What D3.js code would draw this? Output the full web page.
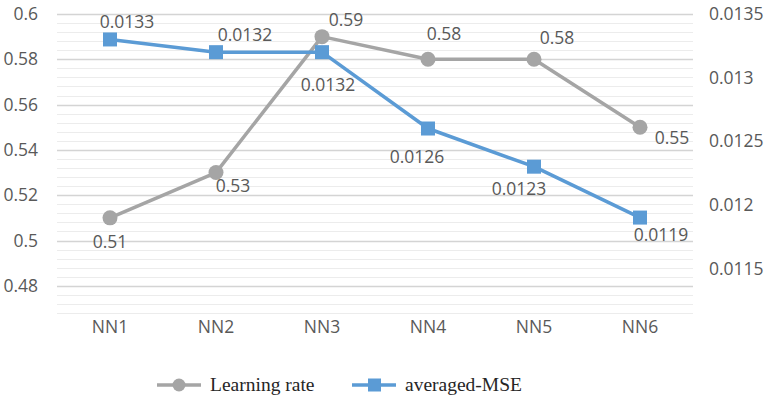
<!DOCTYPE html>
<html>
<head>
<meta charset="utf-8">
<script src="https://cdn.jsdelivr.net/npm/d3@7"></script>
<style>
  html, body { margin: 0; padding: 0; background: #fff; }
  svg { display: block; }
</style>
</head>
<body>
<svg id="chart" width="765" height="402"></svg>
<script>
// Network configurations and their measured values
const categories = ["NN1", "NN2", "NN3", "NN4", "NN5", "NN6"];
const learningRate = [0.51, 0.53, 0.59, 0.58, 0.58, 0.55];
const averagedMSE = [0.0133, 0.0132, 0.0132, 0.0126, 0.0123, 0.0119];
const leftTicks = [0.48, 0.5, 0.52, 0.54, 0.56, 0.58, 0.6];
const rightTicks = [0.0115, 0.012, 0.0125, 0.013, 0.0135];
const seriesNames = ["Learning rate", "averaged-MSE"];

// Offsets [dx, dy] of each value label's centre from its marker
const lrLabelOffset = [[0, 24], [17, 13], [24, -17], [16, -25], [23, -21], [32, 11]];
const mseLabelOffset = [[17, -18], [29, -17], [6, 33], [-11, 28], [-15, 22], [21, 17]];

const svg = d3.select("#chart");
const plot = { left: 57, right: 693, top: 14, bottom: 313 };

const x = d3.scaleBand().domain(categories).range([plot.left, plot.right]);
const yL = d3.scaleLinear().domain([0.468, 0.6]).range([plot.bottom, plot.top]);
const yR = d3.scaleLinear().domain([0.01115, 0.0135]).range([plot.bottom, plot.top]);

const grey = "#a5a5a5", blue = "#5b9bd5", textCol = "#595959";
const font = "'Open Sans', 'Noto Sans', sans-serif";
const fontSize = "17.5px";

// Minor gridlines every 0.004, major every 0.02
const minor = d3.range(0, 34).map(i => 0.468 + i * 0.004).filter(v => v <= 0.6001);
svg.append("g").selectAll("line").data(minor).join("line")
  .attr("x1", plot.left).attr("x2", plot.right)
  .attr("y1", d => Math.round(yL(d)) + 0.5).attr("y2", d => Math.round(yL(d)) + 0.5)
  .attr("stroke", "#ececec").attr("stroke-width", 1);
svg.append("g").selectAll("line").data(leftTicks).join("line")
  .attr("x1", plot.left).attr("x2", plot.right)
  .attr("y1", d => Math.round(yL(d)) + 0.5).attr("y2", d => Math.round(yL(d)) + 0.5)
  .attr("stroke", "#d4d4d4").attr("stroke-width", 1.3);

// Axes (labels only, no domain lines)
const leftAxis = svg.append("g").attr("transform", `translate(${plot.left - 19},0)`)
  .call(d3.axisLeft(yL).tickValues(leftTicks).tickSize(0).tickFormat(d3.format("~g")));
const rightAxis = svg.append("g").attr("transform", `translate(${plot.right + 16},0)`)
  .call(d3.axisRight(yR).tickValues(rightTicks).tickSize(0).tickFormat(d3.format("~g")));
const bottomAxis = svg.append("g").attr("transform", `translate(0,${plot.bottom + 2})`)
  .call(d3.axisBottom(x).tickSize(0));
[leftAxis, rightAxis, bottomAxis].forEach(a => {
  a.select(".domain").remove();
  a.selectAll("text").attr("fill", textCol).style("font-family", font).style("font-size", fontSize);
});
leftAxis.selectAll("text").attr("x", 0);
rightAxis.selectAll("text").attr("x", 0);
bottomAxis.selectAll("text").attr("dy", "0.85em");

// Lines
const cx = i => x(categories[i]) + x.bandwidth() / 2;
const lrLine = d3.line().x((d, i) => cx(i)).y(d => yL(d));
const mseLine = d3.line().x((d, i) => cx(i)).y(d => yR(d));

svg.append("path").datum(learningRate).attr("d", lrLine)
  .attr("fill", "none").attr("stroke", grey).attr("stroke-width", 3.5).attr("stroke-linejoin", "round");
svg.append("path").datum(averagedMSE).attr("d", mseLine)
  .attr("fill", "none").attr("stroke", blue).attr("stroke-width", 3.5).attr("stroke-linejoin", "round");

svg.append("g").selectAll("circle").data(learningRate).join("circle")
  .attr("cx", (d, i) => cx(i)).attr("cy", d => yL(d)).attr("r", 7.5)
  .attr("fill", grey);
svg.append("g").selectAll("rect").data(averagedMSE).join("rect")
  .attr("x", (d, i) => cx(i) - 7).attr("y", d => yR(d) - 7)
  .attr("width", 14).attr("height", 14).attr("fill", blue);

// Value labels
function labels(values, scale, offs) {
  svg.append("g").selectAll("text").data(values).join("text")
    .attr("x", (d, i) => cx(i) + offs[i][0])
    .attr("y", (d, i) => scale(d) + offs[i][1])
    .attr("dy", "0.35em")
    .attr("text-anchor", "middle")
    .attr("fill", textCol).style("font-family", font).style("font-size", fontSize)
    .text(d => d3.format("~g")(d));
}
labels(learningRate, yL, lrLabelOffset);
labels(averagedMSE, yR, mseLabelOffset);

// Legend
const legend = svg.append("g").attr("transform", "translate(0,385)");
const legendItems = [
  { name: seriesNames[0], color: grey, x: 157, shape: "circle" },
  { name: seriesNames[1], color: blue, x: 352, shape: "rect" }
];
legendItems.forEach(item => {
  const g = legend.append("g").attr("transform", `translate(${item.x},0)`);
  g.append("line").attr("x1", 0).attr("x2", 44).attr("y1", 0).attr("y2", 0)
    .attr("stroke", item.color).attr("stroke-width", 3.5);
  if (item.shape === "circle") {
    g.append("circle").attr("cx", 22).attr("cy", 0).attr("r", 6.5).attr("fill", item.color);
  } else {
    g.append("rect").attr("x", 16).attr("y", -6.5).attr("width", 13).attr("height", 13).attr("fill", item.color);
  }
  g.append("text").attr("x", 53).attr("y", 6)
    .attr("fill", "#262626")
    .style("font-family", "'Liberation Serif', 'Times New Roman', serif")
    .style("font-size", "19.5px").text(item.name);
});
</script>
</body>
</html>
